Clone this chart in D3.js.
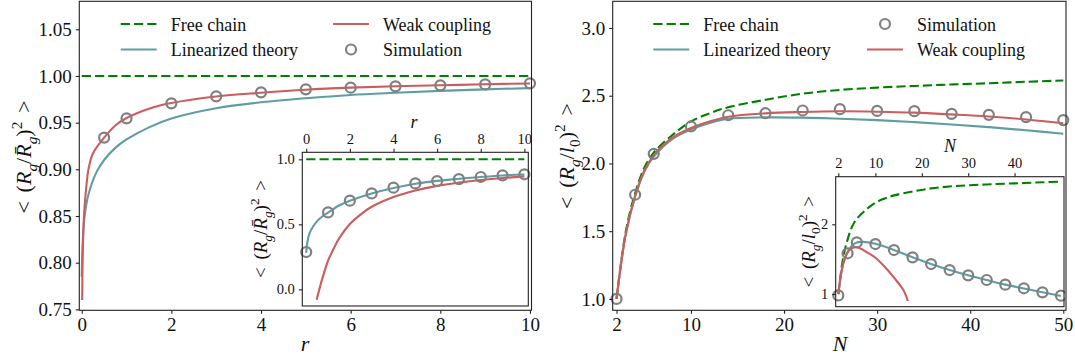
<!DOCTYPE html>
<html>
<head>
<meta charset="utf-8">
<script src="https://cdn.jsdelivr.net/npm/d3@7"></script>
<style>
  body { margin: 0; background: #fff; }
  svg, svg text, svg tspan { font-family: "Liberation Serif", "DejaVu Serif", serif !important; }
  svg text { fill: #111; }
</style>
</head>
<body>
<svg id="chart" width="1075" height="360" font-family="Liberation Serif"></svg>
<script>
// ---------- data : left panel (r) ----------
const freeR = [0, 10];
const freeRVal = [1.0, 1.0];
const weakR = [0.01, 0.02, 0.05, 0.1, 0.15, 0.25, 0.5, 0.75, 1, 1.5, 2, 3, 4, 5, 6, 7, 8, 9, 10];
const weakRVal = [0.76, 0.80, 0.85, 0.88, 0.90, 0.917, 0.934, 0.947, 0.955, 0.965, 0.971, 0.978, 0.982, 0.9853, 0.9875, 0.989, 0.990, 0.9912, 0.992];
const linR = [0, 0.02, 0.06, 0.15, 0.33, 0.5, 0.75, 1, 1.5, 2, 3, 4, 5, 6, 7, 8, 9, 10];
const linRVal = [0.785, 0.82, 0.848, 0.873, 0.897, 0.910, 0.923, 0.932, 0.945, 0.9545, 0.9655, 0.9718, 0.9762, 0.9797, 0.982, 0.984, 0.9857, 0.987];
const simR = [0.5, 1, 2, 3, 4, 5, 6, 7, 8, 9, 10];
const simRVal = [0.934, 0.9546, 0.9707, 0.9782, 0.9825, 0.9857, 0.9875, 0.9889, 0.990, 0.991, 0.9921];

// left inset
const insSimR = [0, 1, 2, 3, 4, 5, 6, 7, 8, 9, 10];
const insSimRVal = [0.287, 0.592, 0.682, 0.738, 0.782, 0.815, 0.833, 0.848, 0.864, 0.877, 0.885];
const insLinR = [0, 0.05, 0.15, 0.3, 0.5, 0.75, 1, 1.5, 2, 3, 4, 5, 6, 7, 8, 9, 10];
const insLinRVal = [0.28, 0.36, 0.43, 0.48, 0.525, 0.562, 0.59, 0.645, 0.682, 0.738, 0.78, 0.812, 0.834, 0.85, 0.864, 0.876, 0.883];
const insWeakR = [0.48, 0.6, 0.75, 1, 1.25, 1.5, 2, 2.5, 3, 4, 5, 6, 7, 8, 9, 10];
const insWeakRVal = [-0.08, 0.0, 0.09, 0.22, 0.31, 0.39, 0.502, 0.577, 0.635, 0.71, 0.76, 0.796, 0.821, 0.841, 0.856, 0.869];

// ---------- data : right panel (N) ----------
const curveN = [2, 3, 4, 5, 6, 8, 10, 12, 14, 18, 22, 26, 30, 34, 38, 42, 46, 50];
const freeNVal = [1.0, 1.50, 1.78, 1.97, 2.08, 2.21, 2.31, 2.37, 2.415, 2.47, 2.515, 2.543, 2.56, 2.572, 2.583, 2.592, 2.603, 2.612];
const weakNVal = [1.0, 1.48, 1.76, 1.95, 2.06, 2.19, 2.262, 2.31, 2.345, 2.37, 2.38, 2.385, 2.382, 2.375, 2.362, 2.347, 2.325, 2.297];
const linNVal = [1.0, 1.48, 1.755, 1.94, 2.05, 2.18, 2.25, 2.298, 2.33, 2.34, 2.338, 2.33, 2.32, 2.305, 2.288, 2.268, 2.245, 2.219];
const simN = [2, 4, 6, 10, 14, 18, 22, 26, 30, 34, 38, 42, 46, 50];
const simNVal = [1.0, 1.769, 2.071, 2.273, 2.356, 2.371, 2.391, 2.401, 2.388, 2.386, 2.366, 2.359, 2.342, 2.320];

// right inset
const insSimNVal = [0.98, 1.584, 1.742, 1.717, 1.631, 1.526, 1.43, 1.344, 1.268, 1.201, 1.134, 1.082, 1.024, 0.976];
const insLinN = [2, 3, 4, 5, 6, 7, 8, 10, 14, 18, 22, 26, 30, 34, 38, 42, 46, 50];
const insLinNVal = [1.0, 1.42, 1.60, 1.70, 1.74, 1.748, 1.745, 1.72, 1.633, 1.528, 1.432, 1.345, 1.268, 1.2, 1.135, 1.08, 1.025, 0.972];
const insWeakN = [2, 3, 4, 5, 6, 7, 8, 10, 12, 14, 16, 17];
const insWeakNVal = [1.0, 1.42, 1.60, 1.66, 1.67, 1.645, 1.605, 1.52, 1.39, 1.235, 1.06, 0.90];

// ticks
const leftXTicks = [0, 2, 4, 6, 8, 10];
const leftYTicks = [0.75, 0.80, 0.85, 0.90, 0.95, 1.00, 1.05];
const leftInsXTicks = [0, 2, 4, 6, 8, 10];
const leftInsYTicks = [0.0, 0.5, 1.0];
const rightXTicks = [2, 10, 20, 30, 40, 50];
const rightYTicks = [1.0, 1.5, 2.0, 2.5, 3.0];
const rightInsXTicks = [2, 10, 20, 30, 40];
const rightInsYTicks = [1, 2];

const GREEN = '#008000', RED = '#cd5c5c', TEAL = '#5f9ea0', GRAY = '#808080';
const FONT = '"Liberation Serif", "DejaVu Serif", serif';
const DASH = '9.25,4';
const svg = d3.select('#chart');
let clipId = 0;

// make a panel: box = [left, top, right, bottom] in px
function panel(box, xDom, yDom) {
	const [l, t, r, b] = box;
	const x = d3.scaleLinear().domain(xDom).range([l, r]);
	const y = d3.scaleLinear().domain(yDom).range([b, t]);
	const g = svg.append('g');
	g.append('rect').attr('x', l).attr('y', t).attr('width', r - l).attr('height', b - t).attr('fill', '#fff');
	const id = 'clip' + (clipId++);
	g.append('clipPath').attr('id', id).append('rect')
		.attr('x', l).attr('y', t).attr('width', r - l).attr('height', b - t);
	const plot = g.append('g').attr('clip-path', 'url(#' + id + ')');
	const marks = g.append('g');
	return { g, plot, marks, x, y, box };
}

function frame(p) {
	const [l, t, r, b] = p.box;
	p.g.append('rect').attr('x', l).attr('y', t).attr('width', r - l).attr('height', b - t)
		.attr('fill', 'none').attr('stroke', '#222').attr('stroke-width', 1.1);
}

function styleAxis(sel, fs) {
	sel.attr('font-family', FONT);
	sel.select('.domain').remove();
	sel.selectAll('line').attr('stroke', '#222').attr('stroke-width', 1.1);
	sel.selectAll('text').attr('font-size', fs).attr('fill', '#111').attr('font-family', FONT);
}

function line(p, xs, ys, color, dashed, smooth) {
	const pts = xs.map((v, i) => [v, ys[i]]);
	const gen = d3.line().x(d => p.x(d[0])).y(d => p.y(d[1]))
		.curve(smooth === false ? d3.curveLinear : d3.curveCatmullRom.alpha(0.5));
	p.plot.append('path').datum(pts).attr('d', gen)
		.attr('fill', 'none').attr('stroke', color).attr('stroke-width', 2.1)
		.attr('stroke-dasharray', dashed ? DASH : null);
}

function circles(p, xs, ys) {
	p.marks.selectAll(null).data(xs.map((v, i) => [v, ys[i]])).enter().append('circle')
		.attr('cx', d => p.x(d[0])).attr('cy', d => p.y(d[1])).attr('r', 5)
		.attr('fill', 'none').attr('stroke', GRAY).attr('stroke-width', 2.2);
}

// math-like text built from tspans; parts: [string, italic, 'sub'|'sup'|null]
function mathText(sel, parts, fs) {
	let shift = 0;
	parts.forEach(([s, it, v]) => {
		const target = v === 'sub' ? 0.26 * fs : v === 'sup' ? -0.42 * fs : 0;
		const ts = sel.append('tspan').text(s).attr('dy', target - shift);
		shift = target;
		if (v) ts.attr('font-size', fs * 0.7);
		if (it) ts.attr('font-style', 'italic');
	});
}

function yLabel(x, y, parts, fs) {
	const t = svg.append('text').attr('transform', 'translate(' + x + ',' + y + ') rotate(-90)')
		.attr('text-anchor', 'middle').attr('font-size', fs).attr('font-family', FONT);
	mathText(t, parts, fs);
}

function plainText(x, y, s, fs, italic) {
	return svg.append('text').attr('x', x).attr('y', y).attr('font-size', fs)
		.attr('font-family', FONT).attr('font-style', italic ? 'italic' : null).text(s);
}

const rgLabel = [['<\u2009\u2009(', false], ['R', true], ['g', true, 'sub'], ['/', false], ['R\u0304', true], ['g', true, 'sub'], [')', false], ['2', false, 'sup'], ['\u2009\u2009>', false]];
const l0Label = [['<\u2009\u2009(', false], ['R', true], ['g', true, 'sub'], ['/', false], ['l', true], ['0', false, 'sub'], [')', false], ['2', false, 'sup'], ['\u2009\u2009>', false]];

// ================= LEFT PANEL =================
const L = panel([79.3, 1.3, 531.5, 310.3], [-0.054, 10.034], [0.749, 1.080]);
line(L, freeR, freeRVal, GREEN, true, false);
line(L, linR, linRVal, TEAL, false);
line(L, weakR, weakRVal, RED, false);
circles(L, simR, simRVal);
L.g.append('g').attr('transform', 'translate(0,310.3)')
	.call(d3.axisBottom(L.x).tickValues(leftXTicks).tickFormat(d3.format('d')).tickSize(3.5).tickPadding(4))
	.call(s => styleAxis(s, 19));
L.g.append('g').attr('transform', 'translate(79.3,0)')
	.call(d3.axisLeft(L.y).tickValues(leftYTicks).tickFormat(d3.format('.2f')).tickSize(3.5).tickPadding(4))
	.call(s => styleAxis(s, 19));
frame(L);
plainText(305, 351, 'r', 22, true).attr('text-anchor', 'middle');
yLabel(31, 157, rgLabel, 22);

// left inset
const LI = panel([302.3, 152.3, 528.3, 306], [-0.18, 10.18], [-0.128, 1.054]);
line(LI, freeR, freeRVal, GREEN, true, false);
line(LI, insLinR, insLinRVal, TEAL, false);
line(LI, insWeakR, insWeakRVal, RED, false);
circles(LI, insSimR, insSimRVal);
LI.g.append('g').attr('transform', 'translate(0,152.3)')
	.call(d3.axisTop(LI.x).tickValues(leftInsXTicks).tickFormat(d3.format('d')).tickSize(3.5).tickPadding(5))
	.call(s => styleAxis(s, 14.5));
LI.g.append('g').attr('transform', 'translate(302.3,0)')
	.call(d3.axisLeft(LI.y).tickValues(leftInsYTicks).tickFormat(d3.format('.1f')).tickSize(3.5).tickPadding(4))
	.call(s => styleAxis(s, 14.5));
frame(LI);
plainText(414, 128, 'r', 18, true).attr('text-anchor', 'middle');
yLabel(267, 229, rgLabel, 19);

// ================= RIGHT PANEL =================
const R = panel([612.7, 1.3, 1066, 310.3], [1.59, 50.29], [0.916, 3.197]);
line(R, curveN, freeNVal, GREEN, true);
line(R, curveN, linNVal, TEAL, false);
line(R, curveN, weakNVal, RED, false);
circles(R, simN, simNVal);
R.g.append('g').attr('transform', 'translate(0,310.3)')
	.call(d3.axisBottom(R.x).tickValues(rightXTicks).tickFormat(d3.format('d')).tickSize(3.5).tickPadding(4))
	.call(s => styleAxis(s, 19));
R.g.append('g').attr('transform', 'translate(612.7,0)')
	.call(d3.axisLeft(R.y).tickValues(rightYTicks).tickFormat(d3.format('.1f')).tickSize(3.5).tickPadding(4))
	.call(s => styleAxis(s, 19));
frame(R);
plainText(840, 351, 'N', 22, true).attr('text-anchor', 'middle');
yLabel(574, 156, l0Label, 22);

// right inset
const RI = panel([835.7, 176.7, 1064, 306.7], [1.44, 50.65], [0.818, 2.683]);
line(RI, curveN, freeNVal, GREEN, true);
line(RI, insLinN, insLinNVal, TEAL, false);
line(RI, insWeakN, insWeakNVal, RED, false);
circles(RI, simN, insSimNVal);
RI.g.append('g').attr('transform', 'translate(0,176.7)')
	.call(d3.axisTop(RI.x).tickValues(rightInsXTicks).tickFormat(d3.format('d')).tickSize(3.5).tickPadding(5))
	.call(s => styleAxis(s, 14.5));
RI.g.append('g').attr('transform', 'translate(835.7,0)')
	.call(d3.axisLeft(RI.y).tickValues(rightInsYTicks).tickFormat(d3.format('d')).tickSize(3.5).tickPadding(4))
	.call(s => styleAxis(s, 14.5));
frame(RI);
plainText(950, 152, 'N', 18, true).attr('text-anchor', 'middle');
yLabel(815, 241.7, l0Label, 19);

// ================= LEGENDS =================
function legendLine(x0, y0, color, dashed, label) {
	svg.append('line').attr('x1', x0).attr('x2', x0 + 36).attr('y1', y0).attr('y2', y0)
		.attr('stroke', color).attr('stroke-width', 2.1).attr('stroke-dasharray', dashed ? DASH : null);
	plainText(x0 + 50, y0 + 6.7, label, 18, false);
}
function legendDot(x0, y0, label) {
	svg.append('circle').attr('cx', x0 + 18).attr('cy', y0).attr('r', 5)
		.attr('fill', 'none').attr('stroke', GRAY).attr('stroke-width', 2.2);
	plainText(x0 + 50, y0 + 6.7, label, 18, false);
}
legendLine(120.7, 24, GREEN, true, 'Free chain');
legendLine(120.7, 49.5, TEAL, false, 'Linearized theory');
legendLine(333, 24, RED, false, 'Weak coupling');
legendDot(333, 49.5, 'Simulation');

legendLine(653.3, 24, GREEN, true, 'Free chain');
legendLine(653.3, 49.5, TEAL, false, 'Linearized theory');
legendDot(867, 24, 'Simulation');
legendLine(867, 49.5, RED, false, 'Weak coupling');
</script>
</body>
</html>
